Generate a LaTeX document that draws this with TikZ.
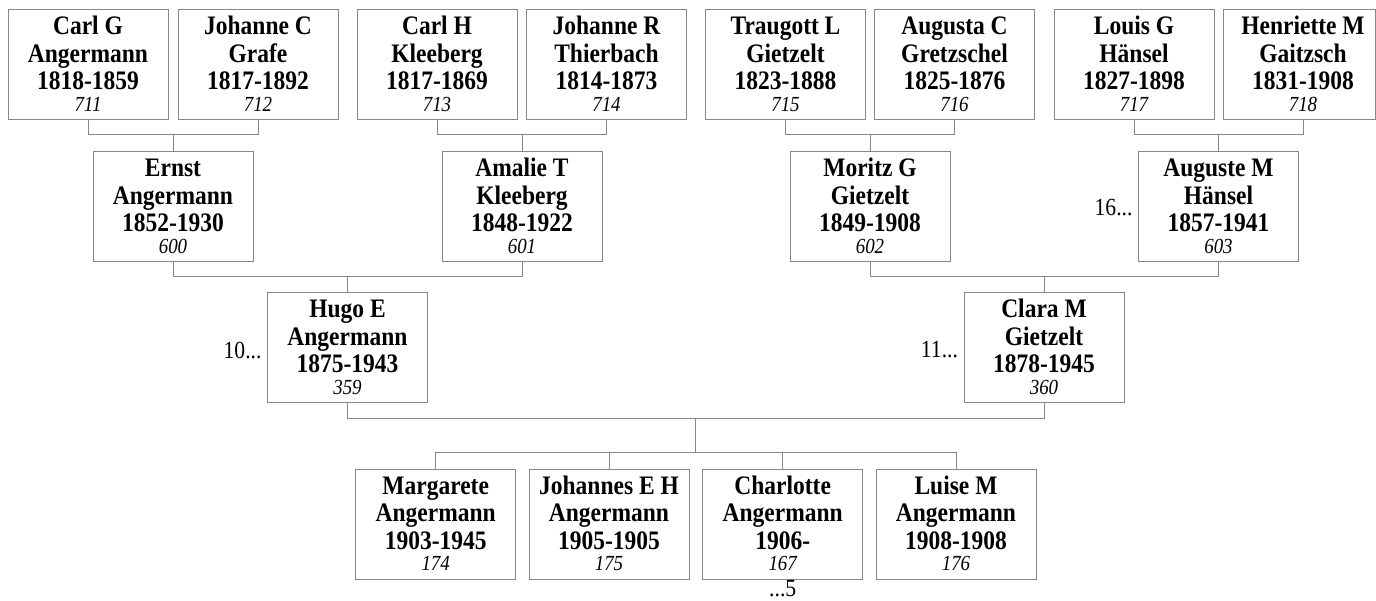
\documentclass[tikz,border=0pt]{standalone}
\usepackage{fontspec}
\setmainfont[FakeStretch=0.88]{Liberation Serif}
\usetikzlibrary{calc}
\definecolor{linegray}{RGB}{135,135,135}
\newcommand{\pinfo}[4]{\parbox[c][110pt][t]{160pt}{\centering\fontsize{26.7pt}{27.5pt}\selectfont\bfseries\rule{0pt}{25pt}#1\\#2\\#3\\[-5.8pt]{\fontsize{21.5pt}{21.7pt}\selectfont\mdseries\itshape #4}}}
\tikzset{
  person/.style={draw=linegray, line width=1pt, inner sep=0pt, outer sep=0pt, fill=white},
  ghost/.style={inner sep=0pt, outer sep=0pt},
  conn/.style={draw=linegray, line width=1pt},
  boxline/.style={draw=linegray, line width=1pt},
  side/.style={inner sep=0pt, outer sep=0pt, font=\fontsize{24.6pt}{26pt}\selectfont}
}
\begin{document}
\begin{tikzpicture}[x=1pt,y=-1pt]
\useasboundingbox (0,0) rectangle (1376,601);
\coordinate (bar1) at (0,135);
\coordinate (bar2) at (0,277);
\coordinate (bar3) at (0,418.5);
\coordinate (bar4) at (0,452.7);
\coordinate (base5) at (0,596.5);
% row 1
\node[person] (p711) at (88,65) {\pinfo{Carl G}{Angermann}{1818-1859}{711}};
\node[person] (p712) at (258,65) {\pinfo{Johanne C}{Grafe}{1817-1892}{712}};
\node[person] (p713) at (437,65) {\pinfo{Carl H}{Kleeberg}{1817-1869}{713}};
\node[person] (p714) at (606.5,65) {\pinfo{Johanne R}{Thierbach}{1814-1873}{714}};
\node[person] (p715) at (785.5,65) {\pinfo{Traugott L}{Gietzelt}{1823-1888}{715}};
\node[person] (p716) at (954.5,65) {\pinfo{Augusta C}{Gretzschel}{1825-1876}{716}};
\node[person] (p717) at (1134,65) {\pinfo{Louis G}{Hänsel}{1827-1898}{717}};
\node[ghost] (p718) at (1303,65) {\pinfo{Henriette M}{Gaitzsch}{1831-1908}{718}};
\draw[boxline] (p718.north west) rectangle ([xshift=-8pt]p718.south east);
% row 2
\node[person] (p600) at (173,207) {\pinfo{Ernst}{Angermann}{1852-1930}{600}};
\node[person] (p601) at (522,207) {\pinfo{Amalie T}{Kleeberg}{1848-1922}{601}};
\node[person] (p602) at (870,207) {\pinfo{Moritz G}{Gietzelt}{1849-1908}{602}};
\node[person] (p603) at (1218.5,207) {\pinfo{Auguste M}{Hänsel}{1857-1941}{603}};
% row 3
\node[person] (p359) at (347.5,348) {\pinfo{Hugo E}{Angermann}{1875-1943}{359}};
\node[person] (p360) at (1044,348) {\pinfo{Clara M}{Gietzelt}{1878-1945}{360}};
% row 4
\node[person] (p174) at (435.7,524) {\pinfo{Margarete}{Angermann}{1903-1945}{174}};
\node[person] (p175) at (609,524) {\pinfo{Johannes E H}{Angermann}{1905-1905}{175}};
\node[person] (p167) at (782.7,524) {\pinfo{Charlotte}{Angermann}{1906-}{167}};
\node[person] (p176) at (956,524) {\pinfo{Luise M}{Angermann}{1908-1908}{176}};
% side labels
\node[side, anchor=east] (m10) at ([xshift=-6pt,yshift=-2pt]p359.west) {10...};
\node[side, anchor=east] (m11) at ([xshift=-6pt,yshift=-2pt]p360.west) {11...};
\node[side, anchor=east] (m16) at ([xshift=-6pt,yshift=-1pt]p603.west) {16...};
\node[side, anchor=base] (m5) at (p167.south |- base5) {...5};
% connectors row1 -> row2
\draw[conn] (p711.south) -- (p711.south |- bar1) -- (p712.south |- bar1) -- (p712.south);
\draw[conn] (p600.north) -- (p600.north |- bar1);
\draw[conn] (p713.south) -- (p713.south |- bar1) -- (p714.south |- bar1) -- (p714.south);
\draw[conn] (p601.north) -- (p601.north |- bar1);
\draw[conn] (p715.south) -- (p715.south |- bar1) -- (p716.south |- bar1) -- (p716.south);
\draw[conn] (p602.north) -- (p602.north |- bar1);
\draw[conn] (p717.south) -- (p717.south |- bar1) -- (p718.south |- bar1) -- (p718.south);
\draw[conn] (p603.north) -- (p603.north |- bar1);
% row2 -> row3
\draw[conn] (p600.south) -- (p600.south |- bar2) -- (p601.south |- bar2) -- (p601.south);
\draw[conn] (p359.north) -- (p359.north |- bar2);
\draw[conn] (p602.south) -- (p602.south |- bar2) -- (p603.south |- bar2) -- (p603.south);
\draw[conn] (p360.north) -- (p360.north |- bar2);
% row3 -> children
\draw[conn] (p359.south) -- (p359.south |- bar3) -- (p360.south |- bar3) -- (p360.south);
\coordinate (fam) at ($(p359.south |- bar3)!0.5!(p360.south |- bar3)$);
\draw[conn] (fam) -- (fam |- bar4);
\draw[conn] (p174.north) -- (p174.north |- bar4) -- (p176.north |- bar4) -- (p176.north);
\draw[conn] (p175.north) -- (p175.north |- bar4);
\draw[conn] (p167.north) -- (p167.north |- bar4);
\end{tikzpicture}
\end{document}
